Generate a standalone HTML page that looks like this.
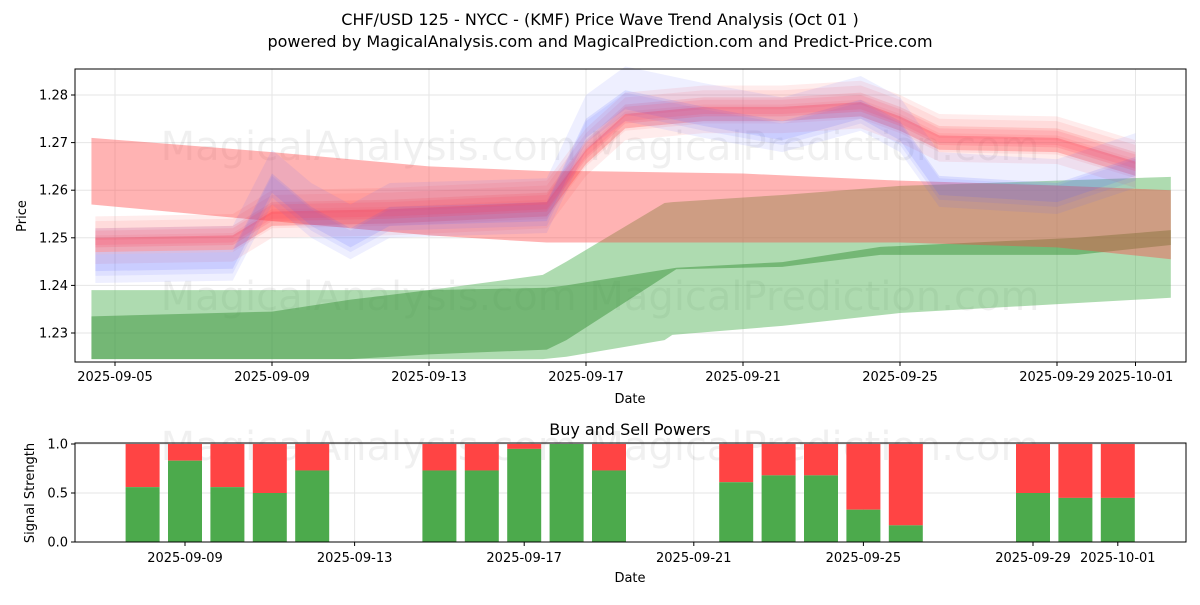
<!DOCTYPE html>
<html><head><meta charset="utf-8">
<style>
body{margin:0;background:#fff;font-family:"Liberation Sans","DejaVu Sans",sans-serif;}
svg text{font-family:"DejaVu Sans","Liberation Sans",sans-serif;}
</style></head>
<body>
<svg id="c" width="1200" height="600" xmlns="http://www.w3.org/2000/svg">
<text x="600" y="25" text-anchor="middle" font-size="16">CHF/USD 125 - NYCC -  (KMF) Price Wave Trend Analysis (Oct 01 )</text>
<text x="600" y="47" text-anchor="middle" font-size="16">powered by MagicalAnalysis.com and MagicalPrediction.com and Predict-Price.com</text>
<g id="main"></g>
<g id="bot"></g>
</svg>
<script>
// ---- data ----
const yTicks=[1.23,1.24,1.25,1.26,1.27,1.28];
const dateTicks=["2025-09-05","2025-09-09","2025-09-13","2025-09-17","2025-09-21","2025-09-25","2025-09-29","2025-10-01"];
const dateTickDays=[0,4,8,12,16,20,24,26];
// wide red band
const redWideDays=[-0.6,4,8,11,12,16,20,24,26.9];
const redWideHi=[1.271,1.268,1.265,1.264,1.264,1.2635,1.262,1.261,1.260];
const redWideLo=[1.257,1.2535,1.2505,1.249,1.249,1.249,1.249,1.248,1.2455];
// wide light green band
const greenWideDays=[-0.6,4,8,10.9,11.5,14,14.2,17,20,26.9];
const greenWideHi=[1.239,1.239,1.239,1.2422,1.245,1.2573,1.2575,1.259,1.2609,1.2628];
const greenWideLo=[1.2245,1.2245,1.2245,1.2245,1.225,1.2285,1.2296,1.2315,1.2342,1.2374];
// darker green band
const greenDarkDays=[-0.6,4,6,8,11,11.5,14.3,17,19.5,24.5,26.9];
const greenDarkHi=[1.2335,1.2345,1.237,1.239,1.2395,1.240,1.2437,1.2449,1.2481,1.250,1.2516];
const greenDarkLo=[1.2245,1.2245,1.2245,1.2255,1.2265,1.2285,1.2434,1.2439,1.2464,1.2464,1.2485];
// red prediction path
const redPathDays=[-0.5,3,4,7,11,12,13,15,17,19,20,21,24,26];
const redPathVals=[1.2495,1.250,1.255,1.2555,1.257,1.268,1.2755,1.277,1.277,1.278,1.275,1.271,1.2705,1.2655];
// blue prediction path
const bluePathDays=[-0.5,3,4,5,6,7,11,12,13,15,17,19,20,21,24,26];
const bluePathVals=[1.245,1.2455,1.2615,1.2545,1.250,1.2545,1.2555,1.273,1.279,1.2755,1.2725,1.277,1.2725,1.261,1.2595,1.265];
// buy/sell powers
const barDays=[3,4,5,6,7,10,11,12,13,14,17,18,19,20,21,24,25,26];
const buyVals=[0.56,0.83,0.56,0.5,0.73,0.73,0.73,0.95,1.0,0.73,0.61,0.68,0.68,0.33,0.17,0.5,0.45,0.45];
const powerTicks=[0,0.5,1.0];

const NS="http://www.w3.org/2000/svg";
function mk(tag,attrs,parent,txt){const e=document.createElementNS(NS,tag);for(const k in attrs)e.setAttribute(k,attrs[k]);if(txt!==undefined)e.textContent=txt;parent.appendChild(e);return e;}
const main=document.getElementById('main'),bot=document.getElementById('bot');
const X=d=>115+d*39.25, Y=v=>95+(1.28-v)*4760;
const L=75,R=1186,T=69,B=362;
const XB=d=>185+(d-4)*42.4, YB=v=>542-v*98;
const BT=443,BB=542;

mk('rect',{x:L,y:T,width:R-L,height:B-T,fill:'#fff'},main);
yTicks.forEach(v=>{const g=mk('line',{x1:L,x2:R,y1:Y(v),y2:Y(v),stroke:'#e6e6e6','stroke-width':1},main);});
dateTickDays.forEach(d=>{const g=mk('line',{x1:X(d),x2:X(d),y1:T,y2:B,stroke:'#e6e6e6','stroke-width':1},main);});
mk('text',{x:600,y:160,'text-anchor':'middle','font-size':40,fill:'#000','fill-opacity':0.06},main,'MagicalAnalysis.com        MagicalPrediction.com');
mk('text',{x:600,y:310,'text-anchor':'middle','font-size':40,fill:'#000','fill-opacity':0.06},main,'MagicalAnalysis.com        MagicalPrediction.com');

function band(days,hi,lo,color,op,name){
  let p=days.map((d,i)=>X(d)+','+Y(hi[i]));
  for(let i=days.length-1;i>=0;i--)p.push(X(days[i])+','+Y(lo[i]));
  const e=mk('polygon',{points:p.join(' '),fill:color,'fill-opacity':op},main);
  
}
band(greenWideDays,greenWideHi,greenWideLo,'#4caf50',0.45,'green-wide-band');
band(greenDarkDays,greenDarkHi,greenDarkLo,'#2e8b2e',0.45,'green-dark-band');
band(redWideDays,redWideHi,redWideLo,'#ff4040',0.4,'red-wide-band');
function pathBand(days,vals,off,half,color,op,name){
  band(days,vals.map(v=>v+off+half),vals.map(v=>v+off-half),color,op,name);
}
[[0,0.0025,0.15],[0.001,0.004,0.1],[-0.001,0.0015,0.15],[0.002,0.002,0.1],[-0.002,0.003,0.1]].forEach(o=>pathBand(redPathDays,redPathVals,o[0],o[1],'#ff4040',o[2],'red-forecast-band'));
[[0,0.002,0.15],[0.002,0.005,0.1],[-0.0015,0.003,0.1]].forEach(o=>pathBand(bluePathDays,bluePathVals,o[0],o[1],'#5566ff',o[2],'blue-forecast-band'));
[[0.0005,0.0015,0.12],[-0.0005,0.001,0.15]].forEach(o=>pathBand(redPathDays,redPathVals,o[0],o[1],'#ff3050',o[2],'red-core-band'));

mk('rect',{x:L,y:T,width:R-L,height:B-T,fill:'none',stroke:'#000','stroke-width':1},main);
yTicks.forEach(v=>{mk('line',{x1:L-4,x2:L,y1:Y(v),y2:Y(v),stroke:'#000'},main);const t=mk('text',{x:L-7,y:Y(v)+4.5,'text-anchor':'end','font-size':13},main,v.toFixed(2));});
dateTickDays.forEach((d,i)=>{mk('line',{x1:X(d),x2:X(d),y1:B,y2:B+4,stroke:'#000'},main);const t=mk('text',{x:X(d),y:B+19,'text-anchor':'middle','font-size':13},main,dateTicks[i]);});
mk('text',{x:630,y:403,'text-anchor':'middle','font-size':13},main,'Date');
mk('text',{x:26,y:216,'text-anchor':'middle','font-size':13,transform:'rotate(-90 26 216)'},main,'Price');

// bottom
mk('text',{x:630,y:435,'text-anchor':'middle','font-size':16},bot,'Buy and Sell Powers');
dateTickDays.slice(1).forEach(d=>mk('line',{x1:XB(d),x2:XB(d),y1:BT,y2:BB,stroke:'#e6e6e6'},bot));
powerTicks.forEach(v=>mk('line',{x1:L,x2:R,y1:YB(v),y2:YB(v),stroke:'#e6e6e6'},bot));
mk('text',{x:600,y:460,'text-anchor':'middle','font-size':40,fill:'#000','fill-opacity':0.06},bot,'MagicalAnalysis.com        MagicalPrediction.com');
barDays.forEach((d,i)=>{
  const b=buyVals[i];
  const s=mk('rect',{x:XB(d)-17,y:YB(1),width:34,height:YB(b)-YB(1),fill:'#ff4444'},bot);
  
  const g=mk('rect',{x:XB(d)-17,y:YB(b),width:34,height:YB(0)-YB(b),fill:'#4caa4c'},bot);
  
});
mk('rect',{x:L,y:BT,width:R-L,height:BB-BT,fill:'none',stroke:'#000'},bot);
powerTicks.forEach(v=>{mk('line',{x1:L-4,x2:L,y1:YB(v),y2:YB(v),stroke:'#000'},bot);mk('text',{x:L-7,y:YB(v)+4.5,'text-anchor':'end','font-size':13},bot,v.toFixed(1));});
dateTickDays.slice(1).forEach((d,i)=>{mk('line',{x1:XB(d),x2:XB(d),y1:BB,y2:BB+4,stroke:'#000'},bot);mk('text',{x:XB(d),y:BB+20,'text-anchor':'middle','font-size':13},bot,dateTicks[i+1]);});
mk('text',{x:630,y:582,'text-anchor':'middle','font-size':13},bot,'Date');
mk('text',{x:34,y:493,'text-anchor':'middle','font-size':13,transform:'rotate(-90 34 493)'},bot,'Signal Strength');
</script>
</body></html>
